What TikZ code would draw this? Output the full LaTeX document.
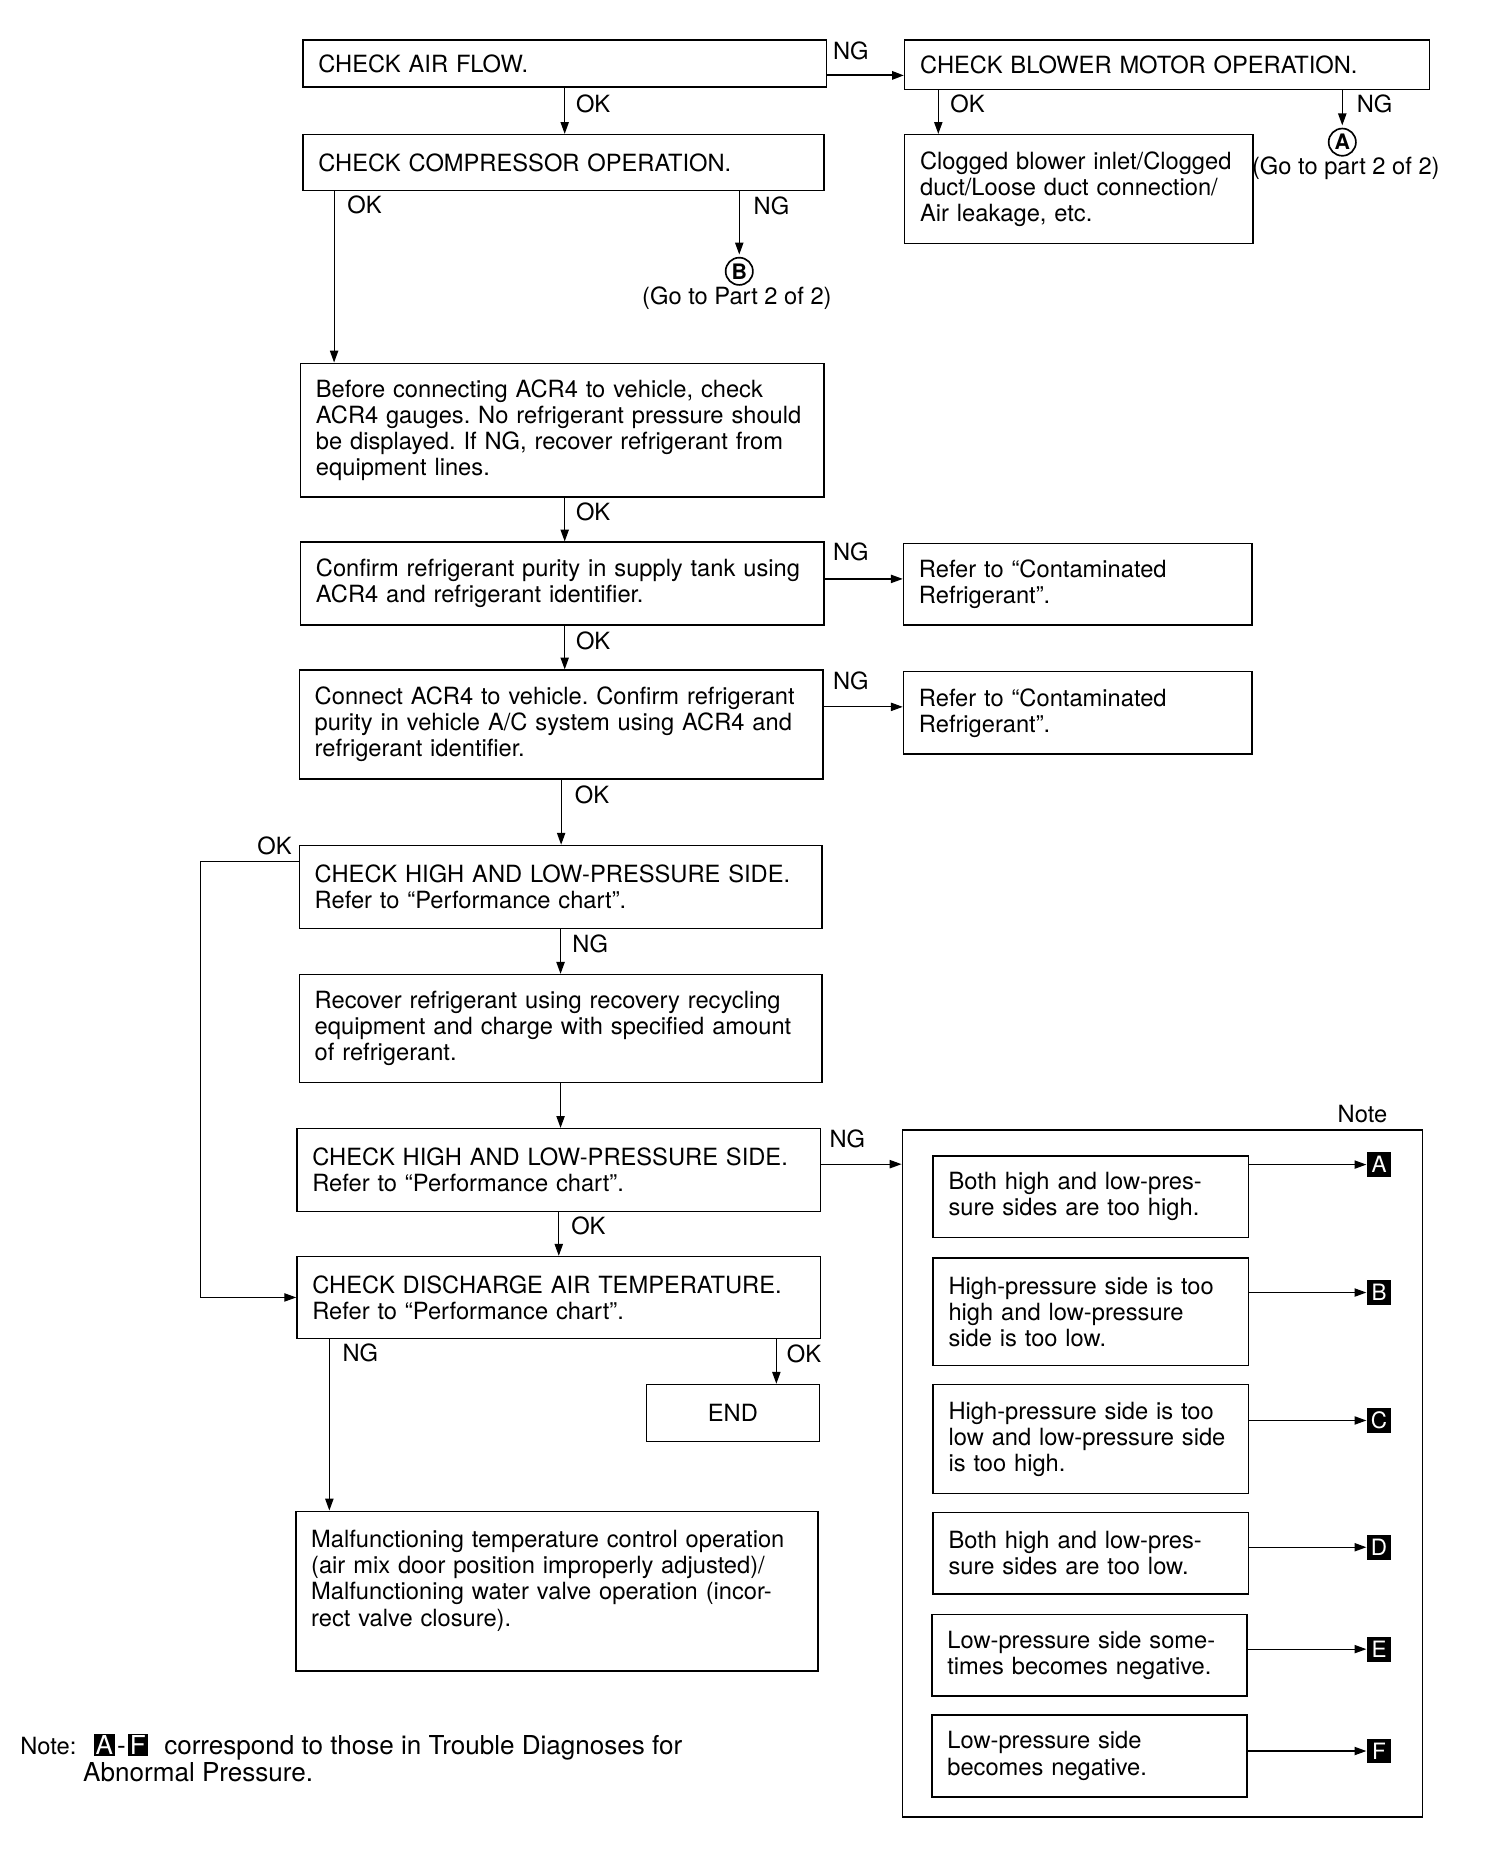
\documentclass[tikz,border=0pt]{standalone}
\usepackage{fontspec}
\setmainfont{TeX Gyre Heros}
\usetikzlibrary{arrows.meta}
\frenchspacing
\tikzset{
  chart/.style={
    x=1pt, y=-1pt,
    >={Triangle[length=10pt,width=7pt]},
    every node/.style={font=\fontsize{20}{22}\selectfont},
  },
  stepbox/.style={draw, line width=1.3pt, anchor=north west, align=left,
    inner xsep=13pt, inner ysep=0pt},
  flow/.style={->, line width=1pt},
  answer/.style={anchor=west, inner sep=0pt},
  goto/.style={circle, draw, line width=1.4pt, inner sep=0pt, minimum size=23pt,
    font=\fontsize{18}{18}\selectfont\bfseries},
  notemark/.style={fill=black, text=white, inner sep=0pt, minimum size=21pt,
    font=\fontsize{19}{19}\selectfont},
}
\newcommand\mk[1]{{\setlength\fboxsep{1.5pt}\colorbox{black}{\textcolor{white}{#1}}}}

\begin{document}
\begin{tikzpicture}[chart]
\useasboundingbox (0,0) rectangle (1269,1570);
% top row
\node[stepbox, minimum width=442, minimum height=40, text width=416pt] (air) at (255,33)
  {CHECK AIR FLOW.};
\node[stepbox, minimum width=443, minimum height=42, text width=417pt] (blower) at (763,33)
  {CHECK BLOWER MOTOR OPERATION.};
\node[stepbox, minimum width=440, minimum height=47, text width=414pt] (comp) at (255,113)
  {CHECK COMPRESSOR OPERATION.};
\node[stepbox, minimum width=294, minimum height=92, text width=268pt] (clog) at (763,113)
  {Clogged blower inlet/Clogged\\duct/Loose duct connection/\\Air leakage, etc.};
\node[goto] (goA) at (1133,120) {A};
\node (goAtext) at (1136,142) {(Go to part 2 of 2)};
\node[goto] (goB) at (624,229) {B};
\node (goBtext) at (622,252) {(Go to Part 2 of 2)};
% main column
\node[stepbox, minimum width=442, minimum height=113, text width=416pt] (acr) at (253,306)
  {Before connecting ACR4 to vehicle, check\\ACR4 gauges. No refrigerant pressure should\\be displayed. If NG, recover refrigerant from\\equipment lines.};
\node[stepbox, minimum width=442, minimum height=70, text width=416pt] (purity) at (253,457)
  {Confirm refrigerant purity in supply tank using\\ACR4 and refrigerant identifier.};
\node[stepbox, minimum width=294, minimum height=69, text width=268pt] (refA) at (762,458)
  {Refer to ``Contaminated\\Refrigerant''.};
\node[stepbox, minimum width=442, minimum height=92, text width=416pt] (connect) at (252,565)
  {Connect ACR4 to vehicle. Confirm refrigerant\\purity in vehicle A/C system using ACR4 and\\refrigerant identifier.};
\node[stepbox, minimum width=294, minimum height=70, text width=268pt] (refB) at (762,566)
  {Refer to ``Contaminated\\Refrigerant''.};
\node[stepbox, minimum width=441, minimum height=70, text width=415pt] (hlA) at (252,713)
  {CHECK HIGH AND LOW-PRESSURE SIDE.\\Refer to ``Performance chart''.};
\node[stepbox, minimum width=441, minimum height=91, text width=415pt] (recover) at (252,822)
  {Recover refrigerant using recovery recycling\\equipment and charge with specified amount\\of refrigerant.};
\node[stepbox, minimum width=442, minimum height=70, text width=416pt] (hlB) at (250,952)
  {CHECK HIGH AND LOW-PRESSURE SIDE.\\Refer to ``Performance chart''.};
\node[stepbox, minimum width=442, minimum height=69, text width=416pt] (temp) at (250,1060)
  {CHECK DISCHARGE AIR TEMPERATURE.\\Refer to ``Performance chart''.};
\node[stepbox, align=center, minimum width=146, minimum height=48, text width=120pt] (end) at (545,1168)
  {END};
\node[stepbox, minimum width=441, minimum height=135, text width=415pt] (malf) at (249,1275)
  {Malfunctioning temperature control operation\\(air mix door position improperly adjusted)/\\Malfunctioning water valve operation (incor-\\rect valve closure).\\\mbox{}};
% note column
\node[draw, line width=1.3pt, anchor=north west, minimum width=439, minimum height=580,
  inner sep=0pt] (notes) at (761,953) {};
\node (notelabel) at (1150,940) {Note};
\node[stepbox, minimum width=266, minimum height=69, text width=240pt] (nA) at (787,975)
  {Both high and low-pres-\\sure sides are too high.};
\node[stepbox, minimum width=266, minimum height=91, text width=240pt] (nB) at (787,1061)
  {High-pressure side is too\\high and low-pressure\\side is too low.};
\node[stepbox, minimum width=266, minimum height=92, text width=240pt] (nC) at (787,1168)
  {High-pressure side is too\\low and low-pressure side\\is too high.};
\node[stepbox, minimum width=266, minimum height=69, text width=240pt] (nD) at (787,1276)
  {Both high and low-pres-\\sure sides are too low.};
\node[stepbox, minimum width=266, minimum height=69, text width=240pt] (nE) at (786,1362)
  {Low-pressure side some-\\times becomes negative.};
\node[stepbox, minimum width=266, minimum height=69, text width=240pt] (nF) at (786,1447)
  {Low-pressure side\\becomes negative.};
\foreach \n/\y in {A/983,B/1091,C/1199,D/1306,E/1392,F/1478}{
  \node[notemark] (m\n) at (1164,\y) {\n};
  \draw[flow] (n\n.east |- m\n) -- (m\n.west);
}
% connectors
\draw[->, line width=1.8pt] ([yshift=-10pt]air.east) -- ([yshift=-10pt]air.east -| blower.west);
\node[answer] (ngAir) at (703,43) {NG};
\draw[flow] (air.south) -- (air.south |- comp.north);
\node[answer] (okAir) at (486,88) {OK};
\draw[flow] ([xshift=29pt]blower.south west) -- ([xshift=29pt]blower.south west |- clog.north);
\node[answer] (okBlower) at (802,88) {OK};
\draw[flow] (blower.south -| goA) -- ([yshift=2pt]goA.north);
\node[answer] (ngBlower) at (1145,88) {NG};
\draw[flow] ([xshift=27pt]comp.south west) -- ([xshift=27pt]comp.south west |- acr.north);
\node[answer] (okComp) at (293,173) {OK};
\draw[flow] (comp.south -| goB) -- ([yshift=2pt]goB.north);
\node[answer] (ngComp) at (636,174) {NG};
\draw[flow] ([xshift=2pt]acr.south) -- ([xshift=2pt]acr.south |- purity.north);
\node[answer] (okAcr) at (486,432) {OK};
\draw[flow] ([yshift=4pt]purity.east) -- ([yshift=4pt]purity.east -| refA.west);
\node[answer] (ngPurity) at (703,466) {NG};
\draw[flow] ([xshift=2pt]purity.south) -- ([xshift=2pt]purity.south |- connect.north);
\node[answer] (okPurity) at (486,541) {OK};
\draw[flow] ([yshift=15pt]connect.east) -- ([yshift=15pt]connect.east -| refB.west);
\node[answer] (ngConnect) at (703,575) {NG};
\draw[flow] (connect.south) -- (connect.south |- hlA.north);
\node[answer] (okConnect) at (485,671) {OK};
\draw[flow] ([yshift=-14pt]hlA.north west) -- ++(-83,0) |- (temp.west);
\node[answer] (okHlA) at (217,714) {OK};
\draw[flow] (hlA.south) -- (hlA.south |- recover.north);
\node[answer] (ngHlA) at (483,797) {NG};
\draw[flow] (recover.south) -- (recover.south |- hlB.north);
\draw[flow] ([yshift=5pt]hlB.east) -- ([yshift=5pt]hlB.east -| notes.west);
\node[answer] (ngHlB) at (700,961) {NG};
\draw[flow] (hlB.south) -- (hlB.south |- temp.north);
\node[answer] (okHlB) at (482,1035) {OK};
\draw[flow] ([xshift=28pt]temp.south west) -- ([xshift=28pt]temp.south west |- malf.north);
\node[answer] (ngTemp) at (289,1142) {NG};
\draw[flow] ([xshift=-37pt]end.north east |- temp.south) -- ([xshift=-37pt]end.north east);
\node[answer] (okTemp) at (664,1143) {OK};
% footnote
\node[anchor=base west, inner sep=0pt] (notehead) at (17,1481) {Note:};
\node[anchor=base west, align=left, inner sep=0pt, font=\fontsize{22}{23}\selectfont] (notetext) at (70,1504)
  {\hspace*{9pt}\mk{A}\hspace{2pt}-\hspace{2pt}\mk{F}\hspace{14pt}correspond to those in Trouble Diagnoses for\\Abnormal Pressure.};
\end{tikzpicture}
\end{document}
